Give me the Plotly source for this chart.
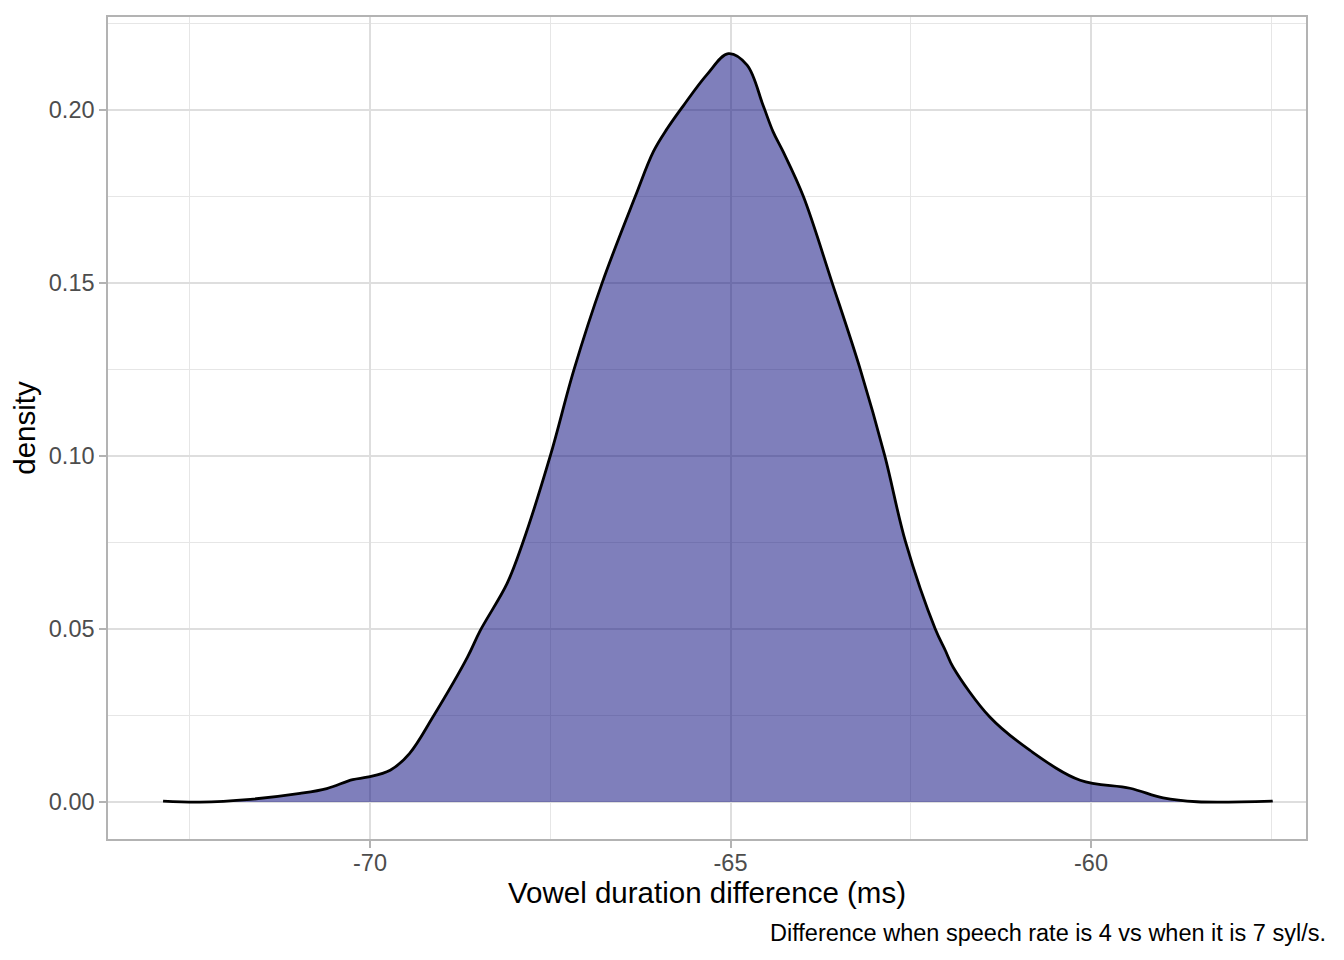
import plotly.graph_objects as go

# density curve (vowel duration difference, ms)
diff_ms = [-72.87, -72.36, -71.66, -70.97, -70.60, -70.24, -70.04, -69.72, -69.45,
           -69.13, -68.65, -68.47, -68.10, -67.88, -67.50, -67.17, -66.78, -66.32,
           -66.07, -65.88, -65.66, -65.33, -65.03, -64.77, -64.55, -64.41, -64.27,
           -63.99, -63.59, -63.20, -62.86, -62.57, -62.16, -62.02, -61.91, -61.40,
           -60.85, -60.15, -59.46, -59.00, -58.53, -57.48]
density = [0.0003, 0.0000, 0.0008, 0.0025, 0.0039, 0.0065, 0.0072, 0.0092, 0.0141,
           0.0245, 0.0418, 0.0496, 0.0631, 0.0750, 0.1000, 0.1250, 0.1500, 0.1750,
           0.1879, 0.1945, 0.2010, 0.2101, 0.2162, 0.2129, 0.2014, 0.1937, 0.1879,
           0.1750, 0.1500, 0.1250, 0.1000, 0.0750, 0.0500, 0.0438, 0.0389, 0.0245,
           0.0150, 0.0063, 0.0040, 0.0012, 0.0001, 0.0003]

x_ticks = [-70, -65, -60]
x_ticklabels = ["-70", "-65", "-60"]
y_ticks = [0.00, 0.05, 0.10, 0.15, 0.20]
y_ticklabels = ["0.00", "0.05", "0.10", "0.15", "0.20"]

FONT = "Liberation Sans, Arial, Helvetica, sans-serif"

fig = go.Figure()
fig.add_trace(go.Scatter(
    x=diff_ms, y=density,
    mode="lines", line=dict(color="black", width=2.8, shape="spline", smoothing=1.0),
    fill="tozeroy", fillcolor="rgba(0,0,120,0.5)",
    hoverinfo="skip", showlegend=False,
))

axis_common = dict(
    showline=True, mirror=True, linecolor="#B3B3B3", linewidth=1.5,
    ticks="outside", ticklen=7, tickwidth=1.5, tickcolor="#B3B3B3",
    showgrid=True, gridcolor="#DEDEDE", gridwidth=1.8,
    zeroline=False,
    tickfont=dict(family=FONT, size=23.5, color="#4D4D4D"),
)

fig.update_xaxes(
    **axis_common,
    range=[-73.634, -57.018],
    tickmode="array", tickvals=x_ticks, ticktext=x_ticklabels,
    ticklabelstandoff=-5,
    minor=dict(tickmode="linear", tick0=-72.5, dtick=5, showgrid=True,
               gridcolor="#E6E6E6", gridwidth=1, ticks=""),
    title=dict(text="Vowel duration difference (ms)", standoff=4,
               font=dict(family=FONT, size=29.5, color="black")),
)
fig.update_yaxes(
    **axis_common,
    range=[-0.01066, 0.2268],
    tickmode="array", tickvals=y_ticks, ticktext=y_ticklabels,
    minor=dict(tickmode="linear", tick0=0.025, dtick=0.05, showgrid=True,
               gridcolor="#E6E6E6", gridwidth=1, ticks=""),
    title=dict(text="density", standoff=4,
               font=dict(family=FONT, size=29.5, color="black")),
)

fig.add_annotation(
    text="Difference when speech rate is 4 vs when it is 7 syl/s.",
    xref="paper", yref="paper", x=1.0184, y=-0.114,
    xanchor="right", yanchor="middle", showarrow=False,
    font=dict(family=FONT, size=23.5, color="black"),
)

# page body adds an 8px offset, so the figure is 8px smaller with shifted margins
fig.update_layout(
    width=1336, height=952,
    margin=dict(l=100, r=38, t=7, b=121),
    plot_bgcolor="white", paper_bgcolor="white",
    font=dict(family=FONT),
)

fig.write_html("out.html")
